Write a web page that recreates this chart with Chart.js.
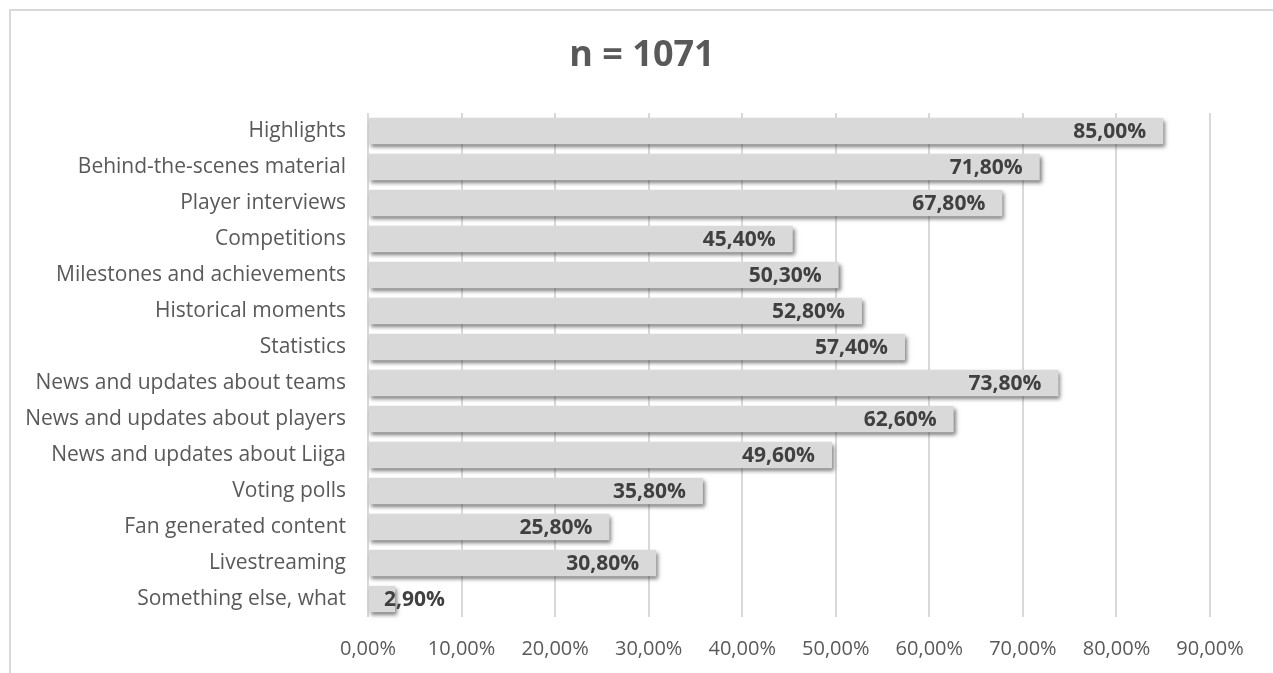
<!DOCTYPE html>
<html>
<head>
<meta charset="utf-8">
<script src="https://cdn.jsdelivr.net/npm/chart.js@4/dist/chart.umd.min.js"></script>
<style>
  html, body { margin: 0; padding: 0; background: #fff; overflow: hidden; }
  #wrap { position: relative; width: 1273px; height: 673px; }
  #frame { position: absolute; left: 9px; top: 9px; width: 1300px; height: 700px; border: 2px solid #d9d9d9; box-sizing: border-box; }
  #grafico { position: absolute; left: 0; top: 0; }
</style>
</head>
<body>
<div id="wrap">
  <div id="frame"></div>
  <canvas id="grafico" width="1273" height="673"></canvas>
</div>
<script>
// datos del grafico
var categorias = [
  'Highlights',
  'Behind-the-scenes material',
  'Player interviews',
  'Competitions',
  'Milestones and achievements',
  'Historical moments',
  'Statistics',
  'News and updates about teams',
  'News and updates about players',
  'News and updates about Liiga',
  'Voting polls',
  'Fan generated content',
  'Livestreaming',
  'Something else, what'
];
var porcentajes = [85.0, 71.8, 67.8, 45.4, 50.3, 52.8, 57.4, 73.8, 62.6, 49.6, 35.8, 25.8, 30.8, 2.9];
var ticksX = [0, 10, 20, 30, 40, 50, 60, 70, 80, 90];
var titulo = 'n = 1071';

var fuente = "'Open Sans', sans-serif";

function formato(v) {
  return v.toFixed(2).replace('.', ',') + '%';
}

// titulo centrado en el lienzo
var tituloPlugin = {
  id: 'tituloPlugin',
  afterDraw: function(chart) {
    var ctx = chart.ctx;
    ctx.save();
    ctx.font = 'bold 36px ' + fuente;
    ctx.fillStyle = '#595959';
    ctx.textAlign = 'center';
    ctx.textBaseline = 'middle';
    ctx.fillText(titulo, 642, 56);
    ctx.restore();
  }
};

// sombra de las barras
var sombra = {
  id: 'sombra',
  beforeDatasetDraw: function(chart) {
    var ctx = chart.ctx;
    ctx.save();
    ctx.shadowColor = 'rgba(0,0,0,0.5)';
    ctx.shadowBlur = 4;
    ctx.shadowOffsetX = 2;
    ctx.shadowOffsetY = 3;
  },
  afterDatasetDraw: function(chart) {
    chart.ctx.restore();
  }
};

// etiquetas de valor dentro del extremo de la barra
var etiquetas = {
  id: 'etiquetas',
  afterDatasetsDraw: function(chart) {
    var ctx = chart.ctx;
    var meta = chart.getDatasetMeta(0);
    ctx.save();
    ctx.font = 'bold 21px ' + fuente;
    ctx.fillStyle = '#404040';
    ctx.textBaseline = 'middle';
    ctx.textAlign = 'left';
    meta.data.forEach(function(bar, i) {
      var txt = formato(porcentajes[i]);
      var w = ctx.measureText(txt).width;
      var x = Math.max(bar.x - 17 - w, bar.base + 15);
      ctx.fillText(txt, x, bar.y + 1);
    });
    ctx.restore();
  }
};

var datos = {
  labels: categorias,
  datasets: [{
    data: porcentajes,
    backgroundColor: '#d9d9d9',
    borderWidth: 0,
    barPercentage: 0.73,
    categoryPercentage: 1,
    clip: false
  }]
};

var config = {
  type: 'bar',
  data: datos,
  plugins: [sombra, etiquetas, tituloPlugin],
  options: {
    indexAxis: 'y',
    responsive: false,
    animation: false,
    layout: { padding: { left: 10, right: 63, top: 113, bottom: 12 } },
    plugins: {
      legend: { display: false },
      tooltip: { enabled: false },
      title: { display: false }
    },
    scales: {
      x: {
        min: 0,
        max: 90,
        afterBuildTicks: function(axis) {
          axis.ticks = ticksX.map(function(v) { return { value: v }; });
        },
        afterFit: function(scale) { scale.height = 44; },
        grid: { color: '#d9d9d9', lineWidth: 2, drawTicks: false },
        border: { display: false },
        ticks: {
          padding: 20,
          color: '#595959',
          font: { family: fuente, size: 20 },
          callback: function(v) { return formato(v); }
        }
      },
      y: {
        grid: { display: false, drawTicks: false },
        border: { display: false },
        afterFit: function(scale) { scale.width = 358; },
        ticks: {
          padding: 22,
          color: '#595959',
          font: { family: fuente, size: 21 }
        }
      }
    }
  }
};

var myChart = new Chart(document.getElementById('grafico'), config);
</script>
</body>
</html>
